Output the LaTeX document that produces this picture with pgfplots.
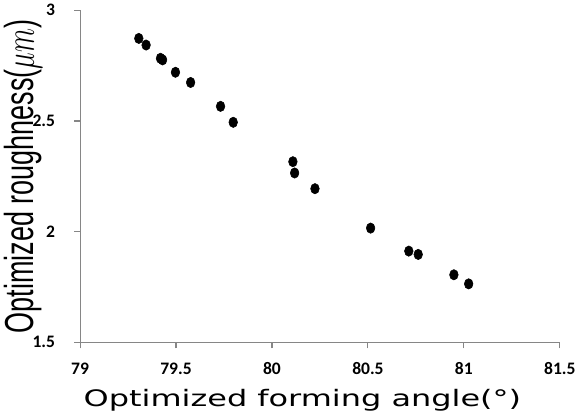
\documentclass[border=0pt]{standalone}
\usepackage{pgfplots}
\pgfplotsset{compat=1.18}
\usepackage{fontspec}
\setmainfont{Liberation Sans}
\newfontfamily\tickfont{Carlito}
\newfontfamily\xlabfont{DejaVu Sans}
\definecolor{axisgray}{HTML}{868686}

\begin{document}
\begin{tikzpicture}
\begin{axis}[
  scale only axis,
  width=355.5pt, height=246pt,
  xmin=79, xmax=81.5, ymin=1.5, ymax=3,
  xtick={79,79.5,...,81.5}, ytick={1.5,2,2.5,3},
  axis lines*=left,
  axis line style={axisgray, line width=0.8pt},
  tick style={axisgray, line width=0.8pt},
  tick align=outside, major tick length=4.5pt,
  /pgf/number format/assume math mode=true,
  /pgf/number format/fixed,
  ticklabel style={font=\tickfont\bfseries\fontsize{13}{14}\selectfont, text=black},
  xticklabel style={yshift=-7pt},
  yticklabel style={xshift=-10.5pt},
  xlabel={\scalebox{1.48}[1.05]{\xlabfont\fontsize{16}{18}\selectfont Optimized forming angle(°)}},
  ylabel={\scalebox{1}[1.5]{\fontsize{20}{22}\selectfont Optimized roughness($\mu m$)}},
  xlabel style={yshift=-4pt, xshift=-13pt},
  ylabel style={yshift=-14pt},
]
\addplot[only marks, mark=*, mark size=3.2pt, mark options={yscale=1.2, fill=black, draw=black}]
coordinates {
(79.306,2.873) (79.344,2.843) (79.419,2.783) (79.430,2.776) (79.497,2.720)
(79.576,2.674) (79.732,2.566) (79.798,2.494) (80.109,2.316) (80.118,2.265)
(80.224,2.194) (80.514,2.016) (80.713,1.912) (80.762,1.897) (80.948,1.805)
(81.025,1.764)
};
\end{axis}
\end{tikzpicture}
\end{document}
